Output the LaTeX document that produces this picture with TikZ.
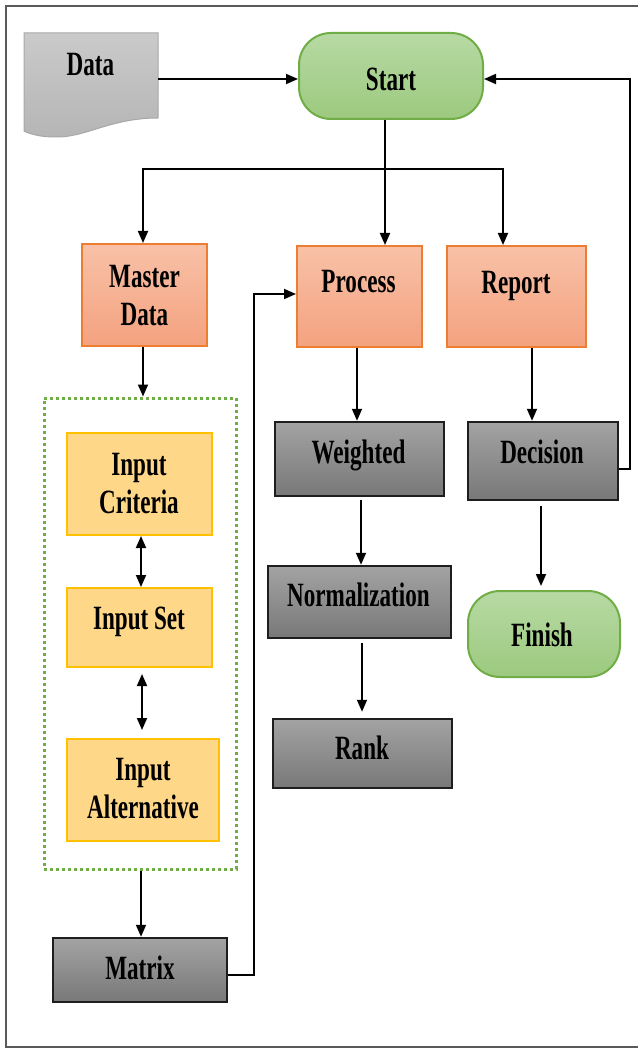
\documentclass[tikz,border=0pt]{standalone}
\usepackage{fontspec}
\setmainfont{Liberation Serif}[FakeStretch=0.68]
\usetikzlibrary{arrows.meta,calc}

\definecolor{orTop}{HTML}{F8C1A7}
\definecolor{orBot}{HTML}{F4A27F}
\definecolor{orLine}{HTML}{ED7D31}
\definecolor{yeFill}{HTML}{FFD788}
\definecolor{yeLine}{HTML}{FFC000}
\definecolor{grTop}{HTML}{A3A3A3}
\definecolor{grBot}{HTML}{787878}
\definecolor{grLine}{HTML}{1E1E1E}
\definecolor{gnTop}{HTML}{B7DAA4}
\definecolor{gnBot}{HTML}{9CC97E}
\definecolor{gnLine}{HTML}{70AD47}
\definecolor{docTop}{HTML}{CACACA}
\definecolor{docBot}{HTML}{B5B5B5}
\definecolor{docLine}{HTML}{A8A8A8}
\definecolor{frameLine}{HTML}{5A5A5A}

\begin{document}
\begin{tikzpicture}[x=1pt,y=-1pt,
  txt/.style={font=\fontsize{34}{38}\selectfont\bfseries, inner sep=0pt,
              text height=22.5pt, text depth=0pt},
  txttwo/.style={font=\fontsize{34}{38}\selectfont\bfseries, inner sep=0pt,
                 align=center},
  orbox/.style={draw=orLine, line width=2pt, top color=orTop, bottom color=orBot,
                inner sep=0pt},
  yebox/.style={draw=yeLine, line width=2pt, fill=yeFill, inner sep=0pt},
  grbox/.style={draw=grLine, line width=2.5pt, top color=grTop, bottom color=grBot,
                inner sep=0pt},
  term/.style={draw=gnLine, line width=2pt, top color=gnTop, bottom color=gnBot,
               rounded corners=32pt, inner sep=0pt},
  grp/.style={draw=gnLine, line width=3pt, dash pattern=on 2.6pt off 3.4pt, inner sep=0pt},
  arr/.style={line width=1.8pt, -{Triangle[length=12pt,width=10pt]}},
  darr/.style={line width=1.8pt, {Triangle[length=12pt,width=10pt]}-{Triangle[length=12pt,width=10pt]}},
  ln/.style={line width=1.8pt}
]
\useasboundingbox (0,0) rectangle (637,1048);

% outer frame
\draw[frameLine, line width=2pt] (645,6) -- (6,6) -- (6,1047) -- (645,1047);

% data document symbol
\path[draw=docLine, line width=1pt, top color=docTop, bottom color=docBot]
  (24,33) -- (158,33) -- (158,118)
  .. controls (110,118) and (85,138) .. (55,137)
  .. controls (40,137) and (30,134) .. (24,131) -- cycle;
\node[txt] (datatxt) at (90.5,64) {Data};
\coordinate (dataR) at (158,79);

% shapes
\node[term, minimum width=184pt, minimum height=86pt] (start) at (391,76) {};
\node[orbox, minimum width=125pt, minimum height=102pt] (md) at (144.5,295) {};
\node[orbox, minimum width=125pt, minimum height=101pt] (proc) at (359.5,296.5) {};
\node[orbox, minimum width=139pt, minimum height=101pt] (rep) at (516.5,296.5) {};
\node[grbox, minimum width=169pt, minimum height=74pt] (wt) at (359.5,459) {};
\node[grbox, minimum width=150pt, minimum height=78pt] (dec) at (543,461) {};
\node[grp, minimum width=192pt, minimum height=471pt] (group) at (140,633.5) {};
\node[yebox, minimum width=145pt, minimum height=102pt] (crit) at (139.5,484) {};
\node[yebox, minimum width=145pt, minimum height=79pt] (iset) at (139.5,627.5) {};
\node[yebox, minimum width=152pt, minimum height=102pt] (alt) at (143,790) {};
\node[grbox, minimum width=183pt, minimum height=72pt] (norm) at (359.5,602) {};
\node[grbox, minimum width=179pt, minimum height=69pt] (rank) at (362.5,753.5) {};
\node[term, minimum width=152pt, minimum height=86pt] (fin) at (544,634) {};
\node[grbox, minimum width=174pt, minimum height=64pt] (mat) at (140,970) {};

% labels
\node[txt] (startt) at (391,79) {Start};
\node[txttwo] (mdt) at (144.5,296) {Master\\Data};
\node[txt] (proct) at (358.5,281) {Process};
\node[txt] (rept) at (516,282) {Report};
\node[txt] (wtt) at (358.5,452) {Weighted};
\node[txt] (dect) at (542,452) {Decision};
\node[txttwo] (critt) at (139,484) {Input\\Criteria};
\node[txt] (isett) at (139,618) {Input Set};
\node[txttwo] (altt) at (143,789) {Input\\Alternative};
\node[txt] (normt) at (358.5,595) {Normalization};
\node[txt] (rankt) at (362,748) {Rank};
\node[txt] (fint) at (542,635) {Finish};
\node[txt] (matt) at (140,968) {Matrix};

% connectors
\draw[arr] (dataR) -- (dataR -| start.west);
\coordinate (split) at ([xshift=-6pt]start.south |- 0,169);
\draw[ln] ([xshift=-6pt]start.south) -- (split);
\draw[arr] (split) -- (split |- proc.north);
\draw[arr] (split) -| ([xshift=-1.5pt]md.north);
\draw[arr] (split) -| ([xshift=-13.5pt]rep.north);

\draw[arr] ([xshift=-1.5pt]md.south) -- ([xshift=3pt]group.north);
\draw[darr] ([xshift=1.5pt]crit.south) -- ([xshift=1.5pt]crit.south |- iset.north);
\draw[darr, shorten <=6pt, shorten >=8pt] ([xshift=2.5pt]iset.south) -- ([xshift=2.5pt]iset.south |- alt.north);
\draw[arr] ([xshift=1pt]group.south) -- ([xshift=1pt]group.south |- mat.north);
\draw[arr] ([yshift=-5pt]mat.east) -- ++(26,0) |- ([yshift=2.5pt]proc.west);

\draw[arr] ([xshift=-2.5pt]proc.south) -- ([xshift=-2.5pt]proc.south |- wt.north);
\draw[arr, shorten <=3pt] ([xshift=1.5pt]wt.south) -- ([xshift=1.5pt]wt.south |- norm.north);
\draw[arr, shorten <=4pt, shorten >=6pt] ([xshift=-0.5pt]rank.north |- norm.south) -- ([xshift=-0.5pt]rank.north);

\draw[arr] ([xshift=15.5pt]rep.south) -- ([xshift=15.5pt]rep.south |- dec.north);
\draw[arr, shorten <=5pt, shorten >=4pt] ([xshift=-2pt]dec.south) -- ([xshift=-2pt]dec.south |- fin.north);
\draw[arr] ([yshift=-8pt]dec.east) -- (630,469) |- ([yshift=-3pt]start.east);
\end{tikzpicture}
\end{document}
